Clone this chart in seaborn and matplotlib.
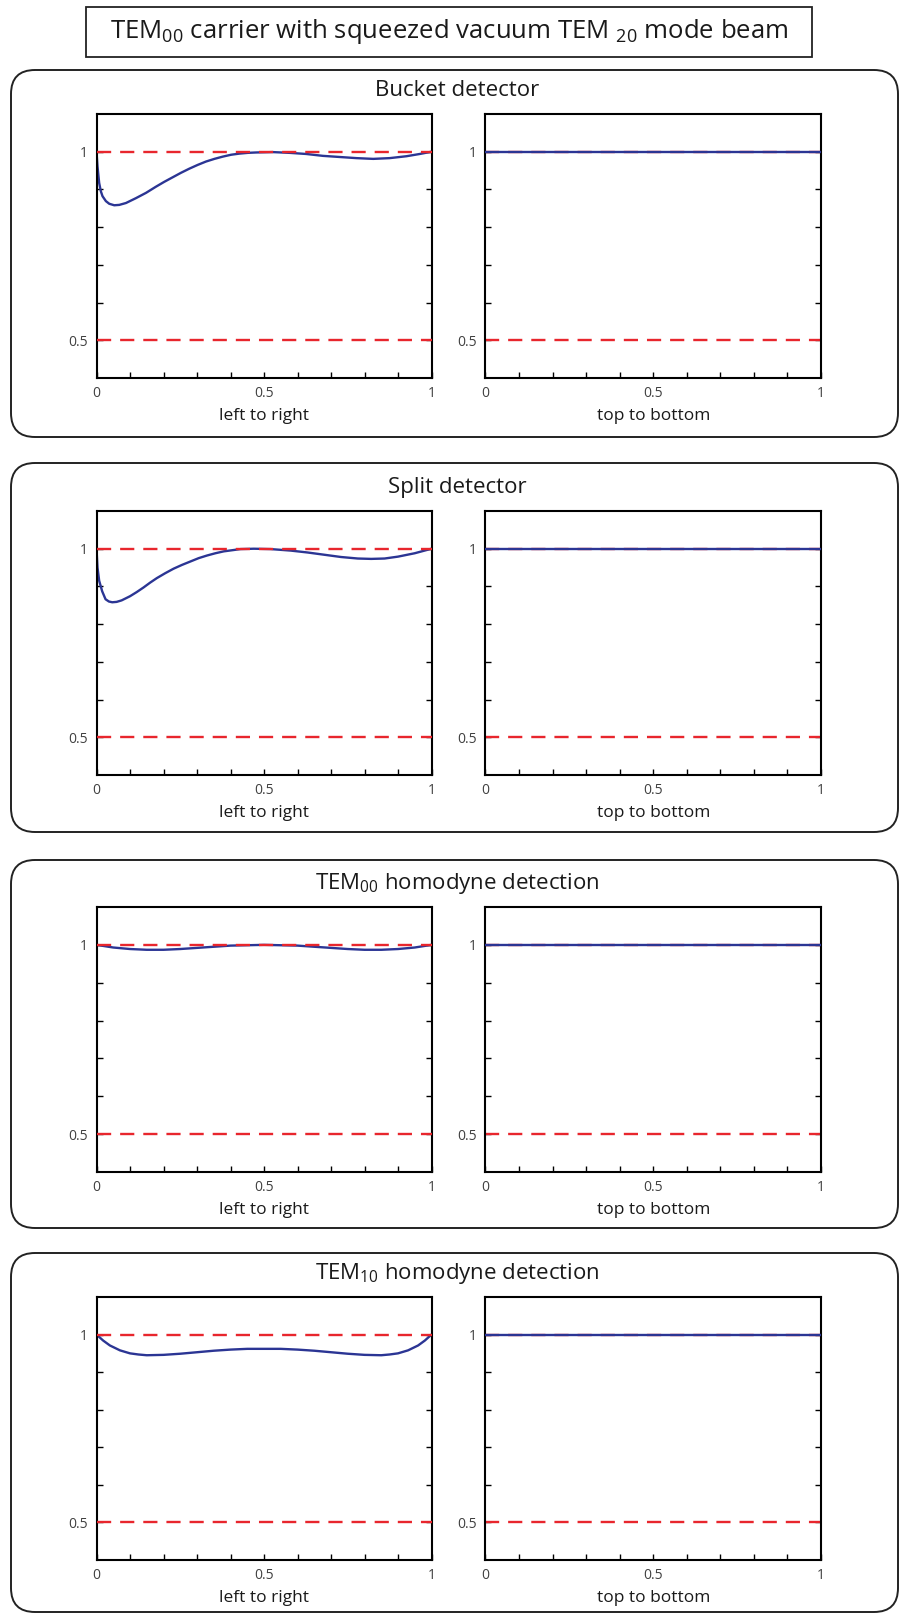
import numpy as np
import pandas as pd
import seaborn as sns
import matplotlib.pyplot as plt
from matplotlib.patches import FancyBboxPatch, Rectangle

# --- values ---
bucket_x = [0, 0.003, 0.008, 0.013, 0.018, 0.028, 0.038, 0.053, 0.068, 0.088, 0.118,
            0.148, 0.177, 0.202, 0.227, 0.252, 0.277, 0.302, 0.327, 0.352, 0.377,
            0.402, 0.427, 0.452, 0.477, 0.526, 0.576, 0.626, 0.676, 0.726, 0.776,
            0.826, 0.875, 0.925, 0.965, 1.0]
bucket_y = [1.0, 0.961, 0.917, 0.895, 0.882, 0.869, 0.862, 0.858, 0.859, 0.864, 0.877,
            0.891, 0.907, 0.92, 0.932, 0.944, 0.955, 0.965, 0.974, 0.981, 0.987,
            0.992, 0.995, 0.997, 0.998, 0.999, 0.997, 0.994, 0.989, 0.986, 0.983,
            0.981, 0.983, 0.988, 0.994, 1.0]

split_x = [0, 0.003, 0.008, 0.017, 0.027, 0.037, 0.047, 0.06, 0.075, 0.1, 0.12, 0.14,
           0.16, 0.18, 0.205, 0.23, 0.255, 0.28, 0.305, 0.33, 0.355, 0.38, 0.43, 0.47,
           0.52, 0.58, 0.63, 0.68, 0.73, 0.78, 0.82, 0.86, 0.9, 0.95, 1.0]
split_y = [1.0, 0.95, 0.915, 0.887, 0.866, 0.86, 0.858, 0.859, 0.863, 0.874, 0.885, 0.897,
           0.91, 0.922, 0.935, 0.947, 0.957, 0.966, 0.975, 0.982, 0.988, 0.993, 0.999, 1.0,
           0.999, 0.995, 0.99, 0.984, 0.978, 0.974, 0.973, 0.974, 0.979, 0.988, 1.0]

hom00_x = [0, 0.05, 0.1, 0.15, 0.2, 0.25, 0.3, 0.35, 0.4, 0.45, 0.5,
           0.55, 0.6, 0.65, 0.7, 0.75, 0.8, 0.85, 0.9, 0.95, 1.0]
hom00_y = [1.0, 0.993, 0.989, 0.987, 0.987, 0.989, 0.992, 0.995, 0.998, 0.999, 1.0,
           0.999, 0.998, 0.995, 0.992, 0.989, 0.987, 0.987, 0.989, 0.993, 1.0]

hom10_x = [0, 0.02, 0.04, 0.07, 0.1, 0.125, 0.15, 0.2, 0.25, 0.3, 0.35, 0.4, 0.45, 0.5,
           0.55, 0.6, 0.65, 0.7, 0.75, 0.8, 0.85, 0.875, 0.9, 0.93, 0.96, 0.98, 1.0]
hom10_y = [1.0, 0.984, 0.971, 0.958, 0.95, 0.947, 0.945, 0.946, 0.949, 0.953, 0.957, 0.96,
           0.962, 0.962, 0.962, 0.96, 0.957, 0.953, 0.949, 0.946, 0.945, 0.947, 0.95,
           0.958, 0.971, 0.984, 1.0]

# top-to-bottom cut is flat for every detector
tb_x = [0, 1]
tb_y = [1.0, 1.0]

ref_levels = [0.5, 1.0]

panel_titles = ['Bucket detector', 'Split detector',
                r'TEM$_{00}$ homodyne detection', r'TEM$_{10}$ homodyne detection']
left_curves = [(bucket_x, bucket_y), (split_x, split_y),
               (hom00_x, hom00_y), (hom10_x, hom10_y)]
fig_title = r'TEM$_{00}$ carrier with squeezed vacuum TEM $_{20}$ mode beam'

# --- layout in pixels (900 x 1616 canvas) ---
W, H = 900, 1616
panel_box = [(70, 437), (463, 832), (860, 1228), (1253, 1612)]
axes_rows = [(114, 378), (511, 775), (907, 1172), (1297, 1560)]
title_y = [91, 487, 883, 1273]
left_ax_x = (96.5, 431.5)
right_ax_x = (485.5, 821)

BLUE = '#2b3594'
RED = '#e8262d'

sns.set_theme(style='white')
plt.rcParams['font.family'] = ['Open Sans', 'DejaVu Sans']
plt.rcParams['mathtext.default'] = 'regular'

fig = plt.figure(figsize=(W / 100, H / 100), dpi=100)

# background layer for frames and headings, in pixel units
bg = fig.add_axes([0, 0, 1, 1], zorder=-1)
bg.set_xlim(0, W)
bg.set_ylim(H, 0)
bg.axis('off')

bg.add_patch(Rectangle((86, 7), 726, 50, fill=False, ec='#222222', lw=1.3))
bg.text(449, 31, fig_title, ha='center', va='center', fontsize=18.5, color='#1a1a1a')


def make_ax(xr, yr):
    return fig.add_axes([xr[0] / W, 1 - yr[1] / H, (xr[1] - xr[0]) / W, (yr[1] - yr[0]) / H])


def style_ax(ax, xlabel):
    ax.set_xlim(0, 1)
    ax.set_ylim(0.4, 1.1)
    ax.set_xticks([0, 0.5, 1], labels=['0', '0.5', '1'])
    ax.set_xticks(np.arange(0.1, 1.0, 0.1), minor=True)
    ax.set_yticks([0.5, 1], labels=['0.5', '1'])
    ax.set_yticks(np.arange(0.6, 0.95, 0.1), minor=True)
    ax.tick_params(which='both', direction='in', length=4, width=1, color='black',
                   top=False, right=True, bottom=True, left=True,
                   labelsize=10, labelcolor='#404040', pad=6)
    for s in ax.spines.values():
        s.set_color('black')
        s.set_linewidth(1.5)
    ax.set_xlabel(xlabel, fontsize=12.5, color='#1a1a1a', labelpad=5)
    ax.set_ylabel('')


for i in range(4):
    top, bot = panel_box[i]
    bg.add_patch(FancyBboxPatch((11, top), 887, bot - top,
                                boxstyle='round,pad=0,rounding_size=24',
                                fc='white', ec='#222222', lw=1.4))
    bg.text(457, title_y[i], panel_titles[i], ha='center', va='center',
            fontsize=16, color='#1a1a1a')

    # left to right cut
    ax = make_ax(left_ax_x, axes_rows[i])
    lx, ly = left_curves[i]
    sns.lineplot(x=lx, y=ly, ax=ax, color=BLUE, lw=1.7, zorder=2)
    for lev in ref_levels:
        ax.axhline(lev, color=RED, lw=1.7, dashes=(6, 3.8), zorder=3)
    style_ax(ax, 'left to right')

    # top to bottom cut
    ax2 = make_ax(right_ax_x, axes_rows[i])
    for lev in ref_levels:
        ax2.axhline(lev, color=RED, lw=1.7, dashes=(6, 3.8), zorder=2)
    sns.lineplot(x=tb_x, y=tb_y, ax=ax2, color=BLUE, lw=1.7, zorder=3)
    style_ax(ax2, 'top to bottom')

fig.savefig('out.png', dpi=100)
